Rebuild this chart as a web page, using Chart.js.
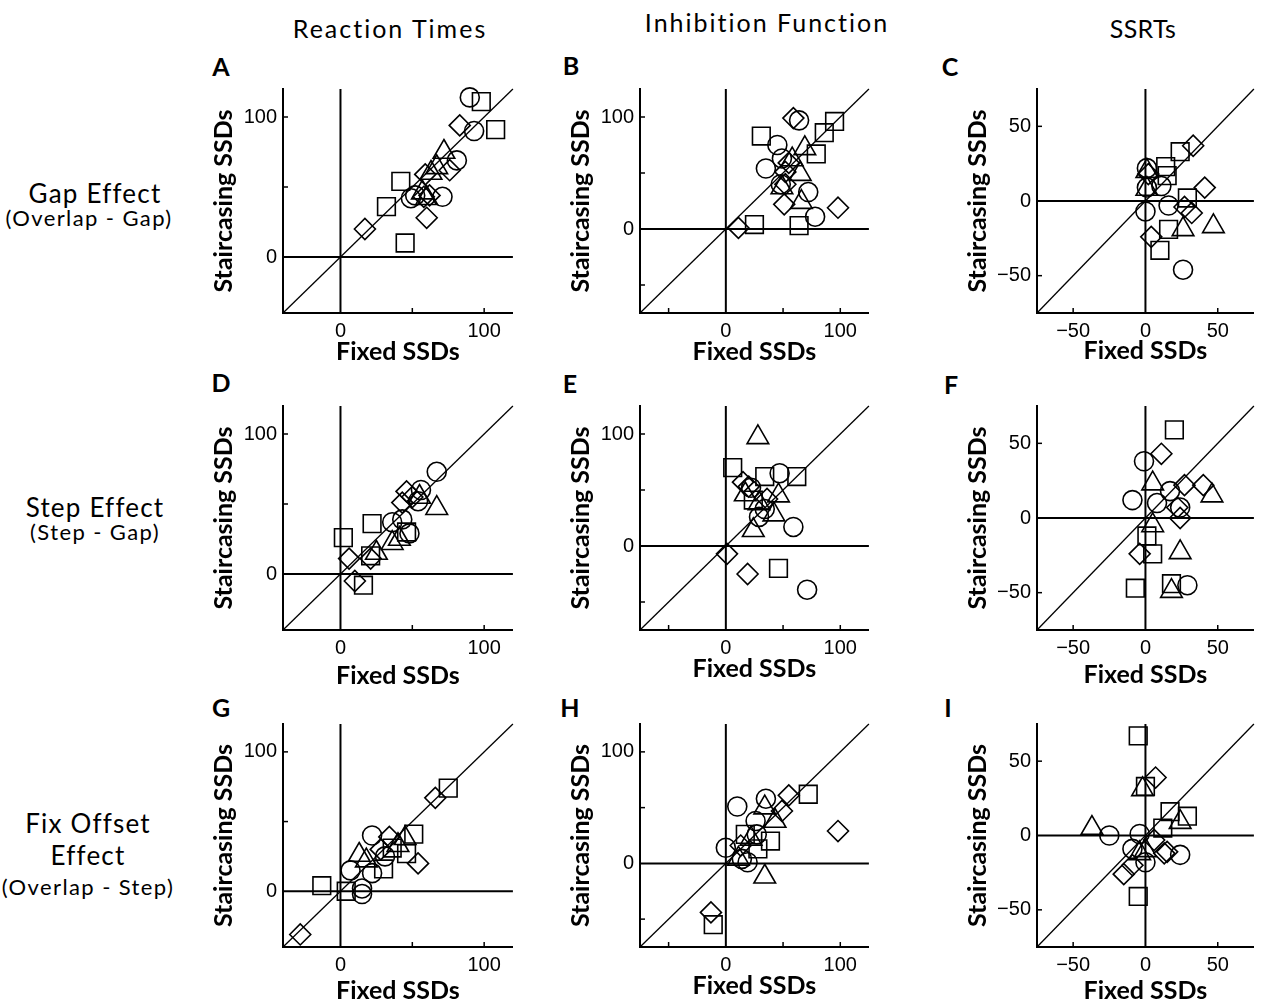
<!DOCTYPE html>
<html>
<head>
<meta charset="utf-8">
<script src="https://cdn.jsdelivr.net/npm/chart.js@4.4.1/dist/chart.umd.min.js"></script>
<style>
  html, body { margin: 0; padding: 0; background: #fff; overflow: hidden; }
  #fig { position: relative; width: 1268px; height: 1007px; background: #fff; overflow: hidden; }
  .txt { position: absolute; font-family: Lato, "Open Sans", sans-serif; color: #000; white-space: nowrap;
         line-height: 1; transform: translate(-50%, -50%); }
  .head { font-size: 25px; letter-spacing: 2px; }
  .head.short { letter-spacing: 0.3px; }
  .row  { font-size: 26px; letter-spacing: 1.2px; }
  .sub  { font-size: 22px; letter-spacing: 1.4px; }
  .let  { font-size: 25px; font-weight: bold; }
  canvas { position: absolute; }
</style>
</head>
<body>
<div id="fig"></div>
<script>
// ---- values: [fixed SSD estimate, staircasing SSD estimate] ----
// A: reaction times, gap effect
const aCircles   = [[90,114],[93,90],[81,69],[49,42],[52,44],[71,43]];
const aSquares   = [[98,111],[108,91],[42,54],[32,36],[45,10]];
const aDiamonds  = [[83,94],[76,62],[59,59],[58,43],[62,44],[60,28],[17,20]];
const aTriangles = [[72,75],[67,64],[57,46],[63,60],[60,42]];
// B: inhibition function, gap effect
const bCircles   = [[64,97],[45,75],[49,63],[35,54],[72,33],[78,11],[48,40]];
const bSquares   = [[95,96],[86,86],[31,83],[79,67],[25,4],[64,3]];
const bDiamonds  = [[59,99],[55,59],[52,51],[52,40],[51,22],[98,19],[11,1]];
const bTriangles = [[69,72],[65,49],[49,37],[66,24],[58,62]];
// C: SSRTs, gap effect
const cCircles   = [[1,22],[1,9],[11,10],[16,-3],[0,-7],[26,-46]];
const cSquares   = [[24,33],[14,23],[15,17],[29,2],[16,-19],[10,-33]];
const cDiamonds  = [[33,37],[41,9],[27,-4],[32,-8],[4,-24],[2,18]];
const cTriangles = [[1,20],[1,8],[47,-17],[26,-19]];
// D: reaction times, step effect
const dCircles   = [[67,73],[56,60],[54,52],[36,37],[43,39],[48,29]];
const dSquares   = [[22,36],[46,30],[2,26],[21,13],[16,-8]];
const dDiamonds  = [[46,59],[43,51],[50,55],[21,11],[6,11],[10,-5]];
const dTriangles = [[67,47],[36,22],[41,25],[25,15],[55,55]];
// E: inhibition function, step effect
const eCircles   = [[47,65],[22,52],[29,26],[59,17],[71,-39],[34,33]];
const eSquares   = [[6,70],[34,62],[62,62],[24,41],[46,-20]];
const eDiamonds  = [[15,57],[20,53],[36,42],[1,-7],[19,-25]];
const eTriangles = [[28,97],[46,45],[17,46],[29,38],[42,28],[24,14]];
// F: SSRTs, step effect
const fCircles   = [[-1,38],[-9,12],[8,10],[17,18],[24,7],[29,-45]];
const fSquares   = [[20,59],[1,-12],[5,-24],[-7,-47],[18,-44]];
const fDiamonds  = [[11,43],[27,22],[40,22],[22,7],[24,0],[-4,-24]];
const fTriangles = [[5,23],[46,15],[5,-5],[24,-23],[18,-49]];
// G: reaction times, fix offset effect
const gCircles   = [[22,40],[31,25],[7,15],[22,13],[15,2],[15,-2]];
const gSquares   = [[75,74],[51,41],[36,31],[46,27],[30,16],[-13,4],[4,0]];
const gDiamonds  = [[66,67],[34,39],[28,30],[54,20],[-28,-31]];
const gTriangles = [[45,38],[40,33],[13,26],[18,22]];
// H: inhibition function, fix offset effect
const hCircles   = [[35,58],[10,51],[26,38],[27,26],[0,14],[14,4],[19,1]];
const hSquares   = [[72,62],[17,26],[39,20],[28,13],[-11,-55]];
const hDiamonds  = [[55,61],[49,47],[98,29],[13,16],[-13,-44]];
const hTriangles = [[34,50],[43,38],[22,22],[11,4],[34,-12]];
// I: SSRTs, fix offset effect
const iCircles   = [[-25,0],[-4,1],[-9,-9],[24,-13],[0,-18]];
const iSquares   = [[-5,67],[0,33],[17,16],[29,13],[12,5],[-5,-41]];
const iDiamonds  = [[7,39],[6,-3],[13,-12],[15,-11],[-9,-20],[-15,-26]];
const iTriangles = [[-2,31],[24,9],[-37,5],[0,-10],[-4,-12]];

// axis extents and ticks per column
const rtRange    = [-40, 120];
const inhRange   = [-75, 125];
const ssrtRange  = [-75, 75];
const rtTicks    = [0, 50, 100];
const inhTicks   = [-50, 0, 50, 100];
const ssrtTicks  = [-50, 0, 50];
const rtLabels   = [0, 100];
const inhLabels  = [0, 100];
const ssrtLabels = [-50, 0, 50];

const columnTitles = ['Reaction Times', 'Inhibition Function', 'SSRTs'];
const panelLetters = ['A','B','C','D','E','F','G','H','I'];

// ---- layout ----
const colBox = [[283, 515], [640, 871], [1037, 1268]];
const rowBox = [[83, 313], [400, 630], [718, 947]];
const xTitleY = [[353, 353, 352], [677, 670, 676], [992, 987, 992]];

const fig = document.getElementById('fig');
function addText(text, cls, cx, cy) {
  const d = document.createElement('div');
  d.className = 'txt ' + cls;
  d.textContent = text;
  d.style.left = cx + 'px';
  d.style.top = cy + 'px';
  fig.appendChild(d);
}

addText(columnTitles[0], 'head', 390, 28);
addText(columnTitles[1], 'head', 767, 22);
addText(columnTitles[2], 'head short', 1143, 28);

addText('Gap Effect', 'row', 95, 193);
addText('(Overlap - Gap)', 'sub', 89, 218);
addText('Step Effect', 'row', 95, 507);
addText('(Step - Gap)', 'sub', 95, 532);
addText('Fix Offset', 'row', 88, 823);
addText('Effect', 'row', 88, 855);
addText('(Overlap - Step)', 'sub', 88, 887);

const letterPos = [[221,66],[571,65],[950,66],[221,382],[570,383],[951,384],[221,707],[570,707],[948,707]];
panelLetters.forEach((l, i) => addText(l, 'let', letterPos[i][0], letterPos[i][1]));

// inward tick marks on both axes
const innerTicks = {
  id: 'innerTicks',
  afterDraw(chart) {
    const {ctx, scales: {x, y}} = chart;
    ctx.save();
    ctx.strokeStyle = '#000';
    ctx.lineWidth = 1.5;
    x.ticks.forEach(t => {
      if (t.value === 0) return;
      const px = x.getPixelForValue(t.value);
      ctx.beginPath(); ctx.moveTo(px, y.bottom); ctx.lineTo(px, y.bottom - 5); ctx.stroke();
    });
    y.ticks.forEach(t => {
      if (t.value === 0) return;
      const py = y.getPixelForValue(t.value);
      ctx.beginPath(); ctx.moveTo(x.left, py); ctx.lineTo(x.left + 5, py); ctx.stroke();
    });
    ctx.restore();
  }
};

function fmt(v) { return v < 0 ? '\u2212' + Math.abs(v) : String(v); }
function pts(arr) { return arr.map(p => ({x: p[0], y: p[1]})); }

function makePanel(idx, circles, squares, diamonds, triangles, range, ticks, labels) {
  const col = idx % 3, row = Math.floor(idx / 3);
  const [L, R] = colBox[col];
  const [T, B] = rowBox[row];
  const yw = 80, pt = 12;
  const padR = col === 2 ? 0 : 12;
  const W = yw + (R - L) + padR;
  const canvasTop = T - pt;
  const H = xTitleY[row][col] + 20 - canvasTop;
  const xh = H - pt - (B - T);

  const cv = document.createElement('canvas');
  cv.width = W; cv.height = H;
  cv.style.left = (L - yw) + 'px';
  cv.style.top = canvasTop + 'px';
  cv.style.width = W + 'px'; cv.style.height = H + 'px';
  fig.appendChild(cv);

  const [lo, hi] = range;
  const ref = (data, w) => ({
    data, showLine: true, borderColor: '#000', borderWidth: w,
    pointRadius: 0, pointHoverRadius: 0, fill: false, clip: false
  });
  const mark = (arr, style, r) => ({
    data: pts(arr), pointStyle: style, pointRadius: r, pointHoverRadius: r,
    pointBorderColor: '#000', pointBackgroundColor: 'rgba(0,0,0,0)',
    pointBorderWidth: 1.6, showLine: false, clip: false
  });

  const axisCommon = (title, isX) => ({
    type: 'linear', min: lo, max: hi,
    afterBuildTicks: s => { s.ticks = ticks.map(v => ({value: v})); },
    grid: { display: false, drawTicks: false },
    border: { display: true, color: '#000', width: 2 },
    ticks: {
      autoSkip: false, maxRotation: 0, padding: 6, color: '#000',
      font: { family: '"Liberation Sans", Arial, sans-serif', size: 20 },
      callback: v => labels.includes(v) ? fmt(v) : ''
    },
    title: {
      display: true, text: title, color: '#000',
      font: { family: 'Lato, sans-serif', size: 25, weight: 'bold' },
      padding: isX ? {top: 0, bottom: 6} : {top: 6, bottom: 0}
    }
  });

  const xAxis = axisCommon('Fixed SSDs', true);
  xAxis.afterFit = s => { s.height = xh; };
  const yAxis = axisCommon('Staircasing SSDs', false);
  yAxis.afterFit = s => { s.width = yw; };

  new Chart(cv, {
    type: 'scatter',
    data: {
      datasets: [
        ref([{x: lo, y: lo}, {x: hi, y: hi}], 1.3),
        ref([{x: lo, y: 0}, {x: hi, y: 0}], 2),
        ref([{x: 0, y: lo}, {x: 0, y: hi}], 2),
        mark(circles, 'circle', 9.5),
        mark(squares, 'rect', 12.5),
        mark(diamonds, 'rectRot', 10.5),
        mark(triangles, 'triangle', 12.5)
      ]
    },
    options: {
      responsive: false, animation: false, devicePixelRatio: 1,
      layout: { padding: { left: 0, top: pt, right: padR, bottom: 0 } },
      plugins: { legend: { display: false }, tooltip: { enabled: false } },
      scales: { x: xAxis, y: yAxis }
    },
    plugins: [innerTicks]
  });
}

makePanel(0, aCircles, aSquares, aDiamonds, aTriangles, rtRange, rtTicks, rtLabels);
makePanel(1, bCircles, bSquares, bDiamonds, bTriangles, inhRange, inhTicks, inhLabels);
makePanel(2, cCircles, cSquares, cDiamonds, cTriangles, ssrtRange, ssrtTicks, ssrtLabels);
makePanel(3, dCircles, dSquares, dDiamonds, dTriangles, rtRange, rtTicks, rtLabels);
makePanel(4, eCircles, eSquares, eDiamonds, eTriangles, inhRange, inhTicks, inhLabels);
makePanel(5, fCircles, fSquares, fDiamonds, fTriangles, ssrtRange, ssrtTicks, ssrtLabels);
makePanel(6, gCircles, gSquares, gDiamonds, gTriangles, rtRange, rtTicks, rtLabels);
makePanel(7, hCircles, hSquares, hDiamonds, hTriangles, inhRange, inhTicks, inhLabels);
makePanel(8, iCircles, iSquares, iDiamonds, iTriangles, ssrtRange, ssrtTicks, ssrtLabels);
</script>
</body>
</html>
